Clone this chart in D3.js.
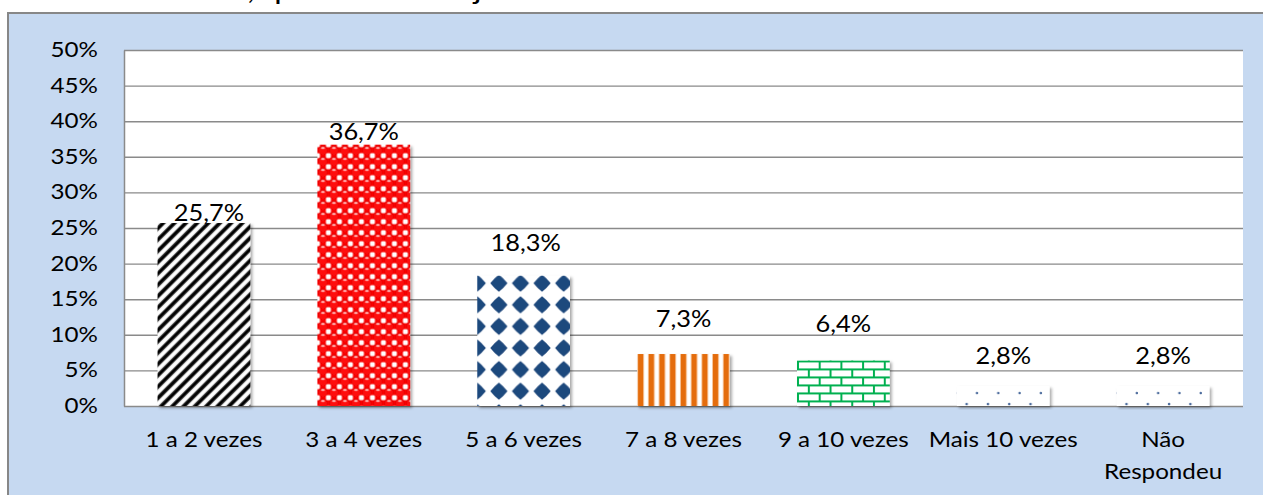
<html>
  <head>
    <meta charset="utf-8">
    <title>Se sim, quantas vezes</title>
  </head>
<style>
  body { margin: 0; background: #fff; }
  text { font-family: Lato, "Open Sans", sans-serif; fill: #000; }
</style>
  <body>
    <script src="https://d3js.org/d3.v7.min.js" charset="utf-8"></script>
    <script>

    // data
    var titleText = "Gráfico 5: Se sim, quantas vezes já?";
    var categories = ["1 a 2 vezes", "3 a 4 vezes", "5 a 6 vezes", "7 a 8 vezes",
                      "9 a 10 vezes", "Mais 10 vezes", "Não\nRespondeu"];
    var values = [25.7, 36.7, 18.3, 7.3, 6.4, 2.8, 2.8];
    var valueLabels = ["25,7%", "36,7%", "18,3%", "7,3%", "6,4%", "2,8%", "2,8%"];
    var yTicks = [0, 5, 10, 15, 20, 25, 30, 35, 40, 45, 50];

    var width = 1263,
        height = 495;

    var plot = {left: 124, right: 1243, top: 50, bottom: 406};
    var sx = 1.18;          // the picture's text is stretched sideways
    var fontSize = 20.5;

    // labels were nudged by hand in the original
    var labelLift = [2, 5, 25, 27, 28, 22, 22];
    var labelShift = [5, 0, 2, 0, 0, 0, 0];

    var svg = d3.select("body")
                .append("svg")
                .attr("width", width)
                .attr("height", height);

    var defs = svg.append("defs");

    var shadow = defs.append("filter").attr("id", "shadow")
                     .attr("x", "-10%").attr("y", "-10%").attr("width", "130%").attr("height", "130%");
    shadow.append("feDropShadow").attr("dx", 2).attr("dy", 2)
          .attr("stdDeviation", 1.6).attr("flood-color", "#000").attr("flood-opacity", 0.35);

    // title, mostly cut off at the top of the picture
    svg.append("text")
       .attr("transform", "translate(5,-1) scale(" + sx + ",1)")
       .attr("font-size", 28)
       .text(titleText);

    // light blue chart box
    svg.append("rect")
       .attr("x", 8).attr("y", 13)
       .attr("width", 1400).attr("height", 600)
       .attr("fill", "#c6d9f1")
       .attr("stroke", "#878787").attr("stroke-width", 2);

    svg.append("rect")
       .attr("x", plot.left).attr("y", plot.top)
       .attr("width", plot.right - plot.left).attr("height", plot.bottom - plot.top)
       .attr("fill", "#fff");

    var x = d3.scaleBand()
              .domain(categories)
              .range([plot.left, plot.right])
              .paddingInner(0.42)
              .paddingOuter(0.21);

    var y = d3.scaleLinear()
              .domain([0, 50])
              .range([plot.bottom, plot.top]);

    // gridlines + y labels
    var yAxis = d3.axisLeft(y)
                  .tickValues(yTicks)
                  .tickSize(-(plot.right - plot.left))
                  .tickSizeOuter(0)
                  .tickPadding(26)
                  .tickFormat(function(d){ return d + "%"; });

    var gy = svg.append("g")
                .attr("transform", "translate(" + plot.left + ",0)")
                .call(yAxis);

    gy.select(".domain").attr("stroke", "#8a8a8a").attr("stroke-width", 1.5);
    gy.selectAll(".tick line").attr("stroke", "#8a8a8a").attr("stroke-width", 1.4);
    gy.selectAll(".tick text")
      .attr("font-family", "Lato, sans-serif")
      .attr("font-size", fontSize)
      .attr("fill", "#000")
      .attr("x", null)
      .attr("transform", "translate(-26,0) scale(" + sx + ",1)");

    // one pattern per bar, anchored at the bar's corner
    function barX(i){ return x(categories[i]); }
    function barY(i){ return y(values[i]); }
    var bw = x.bandwidth();

    function makePattern(i, w, h){
      return defs.append("pattern")
                 .attr("id", "pat" + i)
                 .attr("patternUnits", "userSpaceOnUse")
                 .attr("x", barX(i)).attr("y", barY(i))
                 .attr("width", w).attr("height", h);
    }

    // 1: black diagonal stripes
    var p0 = makePattern(0, 8, 8).attr("patternTransform", "rotate(45 " + barX(0) + " " + barY(0) + ")");
    p0.append("rect").attr("width", 8).attr("height", 8).attr("fill", "#fff");
    p0.append("rect").attr("x", 1.8).attr("width", 4.4).attr("height", 8).attr("fill", "#888");
    p0.append("rect").attr("x", 2.4).attr("width", 3.2).attr("height", 8).attr("fill", "#000");

    // 2: red balls on a checker
    var p1 = makePattern(1, 11, 11);
    p1.append("rect").attr("width", 11).attr("height", 11).attr("fill", "#ff0000");
    [[0,0],[11,0],[0,11],[11,11]].forEach(function(c){
      p1.append("rect").attr("x", c[0]-2.5).attr("y", c[1]-2.5).attr("width", 5).attr("height", 5).attr("fill", "#fff");
    });
    p1.append("circle").attr("cx", 5.5).attr("cy", 5.5).attr("r", 4.8).attr("fill", "#e00000");
    p1.append("circle").attr("cx", 5.5).attr("cy", 5.8).attr("r", 3.9).attr("fill", "#ff1010");
    p1.append("ellipse").attr("cx", 5.5).attr("cy", 3.3).attr("rx", 2).attr("ry", 1).attr("fill", "#ffc8c8");

    // 3: navy diamonds, slightly rounded
    var dw = 21.6, dr = 8.6, k = dr * 0.56;
    var p2 = makePattern(2, dw, dw).attr("y", barY(2) + 7.5);
    p2.append("rect").attr("width", dw).attr("height", dw).attr("fill", "#fff");
    [[0,0],[dw,0],[0,dw],[dw,dw]].forEach(function(c){
      var cx = c[0], cy = c[1];
      p2.append("path")
        .attr("d", "M" + cx + "," + (cy-dr) +
                   " Q" + (cx+k) + "," + (cy-k) + " " + (cx+dr) + "," + cy +
                   " Q" + (cx+k) + "," + (cy+k) + " " + cx + "," + (cy+dr) +
                   " Q" + (cx-k) + "," + (cy+k) + " " + (cx-dr) + "," + cy +
                   " Q" + (cx-k) + "," + (cy-k) + " " + cx + "," + (cy-dr) + "Z")
        .attr("fill", "#1f497d");
    });

    // 4: orange vertical stripes
    var p3 = makePattern(3, 10.7, 10);
    p3.append("rect").attr("width", 10.7).attr("height", 10).attr("fill", "#fff");
    p3.append("rect").attr("x", 0).attr("width", 7).attr("height", 10).attr("fill", "#f6c39a");
    p3.append("rect").attr("x", 1).attr("width", 5).attr("height", 10).attr("fill", "#e46c0a");

    // 5: green bricks
    var bkw = 21.7, bkh = 8;
    var p4 = makePattern(4, bkw, bkh * 2);
    p4.append("rect").attr("width", bkw).attr("height", bkh * 2).attr("fill", "#fff");
    p4.append("rect").attr("y", 0).attr("width", bkw).attr("height", 2).attr("fill", "#00b050");
    p4.append("rect").attr("y", bkh).attr("width", bkw).attr("height", 2).attr("fill", "#00b050");
    p4.append("rect").attr("x", 0).attr("y", 0).attr("width", 2).attr("height", bkh).attr("fill", "#00b050");
    p4.append("rect").attr("x", bkw / 2).attr("y", bkh).attr("width", 2).attr("height", bkh).attr("fill", "#00b050");

    // 6, 7: sparse dots
    [5, 6].forEach(function(i){
      var p = makePattern(i, 21.3, 22);
      p.append("rect").attr("width", 21.3).attr("height", 22).attr("fill", "#fff");
      p.append("circle").attr("cx", 20.2).attr("cy", 7).attr("r", 1.3).attr("fill", "#4a6a9c");
      p.append("circle").attr("cx", 9.8).attr("cy", 18).attr("r", 1.3).attr("fill", "#4a6a9c");
    });

    // bars
    svg.selectAll("rect.bar")
       .data(values)
       .enter().append("rect")
       .attr("class", "bar")
       .attr("x", function(d, i){ return barX(i); })
       .attr("y", function(d){ return y(d); })
       .attr("width", bw)
       .attr("height", function(d){ return y(0) - y(d); })
       .attr("fill", function(d, i){ return "url(#pat" + i + ")"; })
       .attr("filter", "url(#shadow)");

    // value labels
    svg.selectAll("text.val")
       .data(values)
       .enter().append("text")
       .attr("class", "val")
       .attr("text-anchor", "middle")
       .attr("font-size", 23.5)
       .attr("transform", function(d, i){
         var cx = barX(i) + bw / 2 + labelShift[i];
         return "translate(" + cx + "," + (y(d) - labelLift[i]) + ") scale(1.08,1)";
       })
       .text(function(d, i){ return valueLabels[i]; });

    // category labels
    categories.forEach(function(c, i){
      var lines = c.split("\n");
      var cx = x(c) + bw / 2;
      lines.forEach(function(line, k){
        svg.append("text")
           .attr("text-anchor", "middle")
           .attr("font-size", fontSize)
           .attr("transform", "translate(" + cx + "," + (447 + k * 32) + ") scale(" + sx + ",1)")
           .text(line);
      });
    });

    </script>
  </body>
</html>
